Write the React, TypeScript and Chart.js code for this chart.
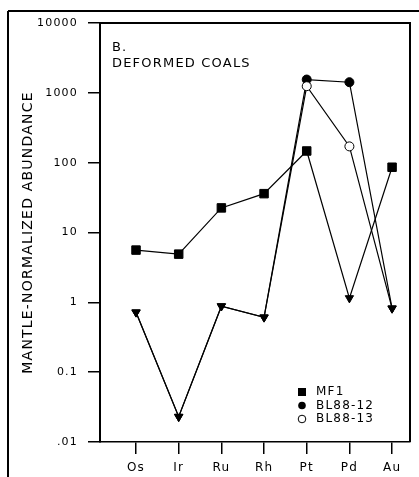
import React, { useEffect, useRef } from 'react';
import { Chart, registerables } from 'chart.js';

Chart.register(...registerables);

const FONT = 'DejaVu Sans';

const categories = ['Os', 'Ir', 'Ru', 'Rh', 'Pt', 'Pd', 'Au'];
const mf1 = [5.6, 4.9, 22.5, 36, 147, 1.15, 86];
const bl8812 = [0.72, 0.023, 0.88, 0.61, 1550, 1420, 0.82];
const bl8813 = [0.72, 0.023, 0.88, 0.61, 1245, 171, 0.82];
const mf1Styles = ['rect', 'rect', 'rect', 'rect', 'rect', 'triangle', 'rect'];
const blStyles = ['triangle', 'triangle', 'triangle', 'triangle', 'circle', 'circle', 'triangle'];
const yTicks = [0.01, 0.1, 1, 10, 100, 1000, 10000];
const yTickLabels = ['.01', '0.1', '1', '10', '100', '1000', '10000'];
const titleLines = ['B.', 'DEFORMED COALS'];
const yTitle = 'MANTLE-NORMALIZED ABUNDANCE';
const legendLabels = ['MF1', 'BL88-12', 'BL88-13'];
const legendMarkers = ['square', 'filledCircle', 'openCircle'];

const radiusFor = (s: string) => (s === 'rect' ? 6 : s === 'triangle' ? 4.8 : 4.5);
const rotFor = (s: string) => (s === 'triangle' ? 180 : 0);

function makeDataset(label: string, values: number[], styles: string[], open: boolean, order: number) {
  return {
    label,
    data: values.map((v, i) => ({ x: i, y: v })),
    borderColor: '#000',
    borderWidth: 1.2,
    pointStyle: styles,
    pointRotation: styles.map(rotFor),
    pointRadius: styles.map(radiusFor),
    pointBackgroundColor: styles.map((s) => (open && s === 'circle' ? '#fff' : '#000')),
    pointBorderColor: '#000',
    pointBorderWidth: 1,
    fill: false,
    tension: 0,
    order,
  };
}

const decorPlugin = {
  id: 'decor',
  beforeDraw(chart: any) {
    const ctx = chart.ctx;
    ctx.letterSpacing = '1.2px';
  },
  afterDraw(chart: any) {
    const ctx = chart.ctx;
    const { left, right, top, bottom } = chart.chartArea;
    ctx.save();
    ctx.strokeStyle = '#000';
    // outer frame
    ctx.lineWidth = 2;
    ctx.beginPath();
    ctx.moveTo(8, 11);
    ctx.lineTo(419, 11);
    ctx.moveTo(8, 11);
    ctx.lineTo(8, 477);
    ctx.stroke();
    // plot frame top & right
    ctx.beginPath();
    ctx.moveTo(left, top);
    ctx.lineTo(right, top);
    ctx.lineTo(right, bottom);
    ctx.stroke();
    // title
    ctx.fillStyle = '#000';
    ctx.textAlign = 'left';
    ctx.textBaseline = 'middle';
    ctx.font = `13px "${FONT}"`;
    ctx.fillText(titleLines[0], left + 12, top + 25);
    ctx.fillText(titleLines[1], left + 12, top + 40.5);
    // legend
    ctx.font = `12px "${FONT}"`;
    const mx = right - 108;
    legendLabels.forEach((lab, i) => {
      const y = bottom - 50 + i * 13.5;
      const m = legendMarkers[i];
      ctx.lineWidth = 1;
      if (m === 'square') {
        ctx.fillRect(mx - 4, y - 4, 8, 8);
      } else {
        ctx.beginPath();
        ctx.arc(mx, y, 3.8, 0, Math.PI * 2);
        if (m === 'filledCircle') ctx.fill();
        else ctx.stroke();
      }
      ctx.fillText(lab, mx + 14, y);
    });
    ctx.restore();
  },
};

export default function App() {
  const ref = useRef<HTMLCanvasElement>(null);
  useEffect(() => {
    document.body.style.margin = '0';
    const canvas = ref.current!;
    const chart = new Chart(canvas, {
      type: 'line',
      data: {
        datasets: [
          makeDataset('BL88-13', bl8813, blStyles, true, 0) as any,
          makeDataset('BL88-12', bl8812, blStyles, false, 1) as any,
          makeDataset('MF1', mf1, mf1Styles, false, 2) as any,
        ],
      },
      options: {
        responsive: false,
        animation: false,
        layout: { padding: { top: 23, right: 9, left: 0, bottom: 0 } },
        plugins: {
          legend: { display: false },
          tooltip: { enabled: false },
          title: { display: false },
        },
        scales: {
          x: {
            type: 'linear',
            min: -0.844,
            max: 6.42,
            afterBuildTicks: (s: any) => {
              s.ticks = categories.map((_, i) => ({ value: i }));
            },
            afterFit: (s: any) => {
              s.height = 35;
            },
            ticks: {
              callback: (v: any) => categories[v] ?? '',
              font: { family: FONT, size: 12 },
              color: '#000',
              padding: 7,
              maxRotation: 0,
              autoSkip: false,
            },
            grid: { drawOnChartArea: false, drawTicks: true, tickLength: 12, color: '#000', lineWidth: 1.5 },
            border: { display: true, color: '#000', width: 1.5 },
          },
          y: {
            type: 'logarithmic',
            min: 0.01,
            max: 10000,
            afterBuildTicks: (s: any) => {
              s.ticks = yTicks.map((v) => ({ value: v, major: true }));
            },
            afterFit: (s: any) => {
              s.width = 100;
            },
            ticks: {
              callback: (v: any) => {
                const i = yTicks.indexOf(v);
                return i >= 0 ? yTickLabels[i] : '';
              },
              font: { family: FONT, size: 11 },
              color: '#000',
              padding: 10,
              autoSkip: false,
            },
            grid: { drawOnChartArea: false, drawTicks: true, tickLength: 12, color: '#000', lineWidth: 1.5 },
            border: { display: true, color: '#000', width: 2 },
            title: {
              display: true,
              text: yTitle,
              color: '#000',
              font: { family: FONT, size: 14 },
              padding: { top: 20, bottom: 0 },
            },
          },
        },
      },
      plugins: [decorPlugin],
    } as any);
    return () => chart.destroy();
  }, []);
  return <canvas ref={ref} width={419} height={477} style={{ display: 'block' }} />;
}
